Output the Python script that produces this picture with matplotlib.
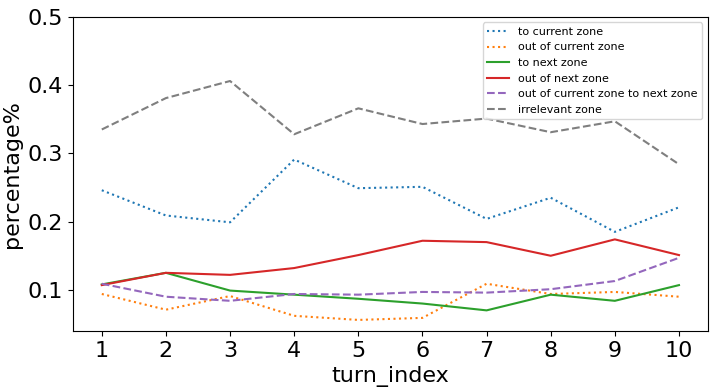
import matplotlib
matplotlib.use('Agg')
import matplotlib.pyplot as plt

turns = [1, 2, 3, 4, 5, 6, 7, 8, 9, 10]
to_current = [0.246, 0.209, 0.199, 0.291, 0.249, 0.251, 0.204, 0.235, 0.185, 0.221]
out_current = [0.094, 0.071, 0.091, 0.062, 0.056, 0.059, 0.109, 0.094, 0.097, 0.090]
to_next = [0.108, 0.125, 0.099, 0.093, 0.087, 0.080, 0.070, 0.093, 0.084, 0.107]
out_next = [0.107, 0.125, 0.122, 0.132, 0.151, 0.172, 0.170, 0.150, 0.174, 0.151]
cur_to_next = [0.109, 0.090, 0.084, 0.094, 0.093, 0.097, 0.096, 0.101, 0.113, 0.147]
irrelevant = [0.335, 0.381, 0.406, 0.328, 0.366, 0.343, 0.351, 0.331, 0.347, 0.284]

fig = plt.figure(figsize=(7.15, 3.92), dpi=100)
ax = fig.add_axes([0.102, 0.156, 0.888, 0.801])

ax.plot(turns, to_current, ':', color='tab:blue', label='to current zone')
ax.plot(turns, out_current, ':', color='tab:orange', label='out of current zone')
ax.plot(turns, to_next, '-', color='tab:green', label='to next zone')
ax.plot(turns, out_next, '-', color='tab:red', label='out of next zone')
ax.plot(turns, cur_to_next, '--', color='tab:purple', label='out of current zone to next zone')
ax.plot(turns, irrelevant, '--', color='tab:gray', label='irrelevant zone')

ax.set_ylim(0.04, 0.5)
ax.set_xticks(turns)
ax.set_yticks([0.1, 0.2, 0.3, 0.4, 0.5])
ax.tick_params(labelsize=16)
ax.set_xlabel('turn_index', fontsize=16)
ax.set_ylabel('percentage%', fontsize=16)
ax.legend(loc='upper right', fontsize=8)

fig.savefig('out.png', dpi=100)
